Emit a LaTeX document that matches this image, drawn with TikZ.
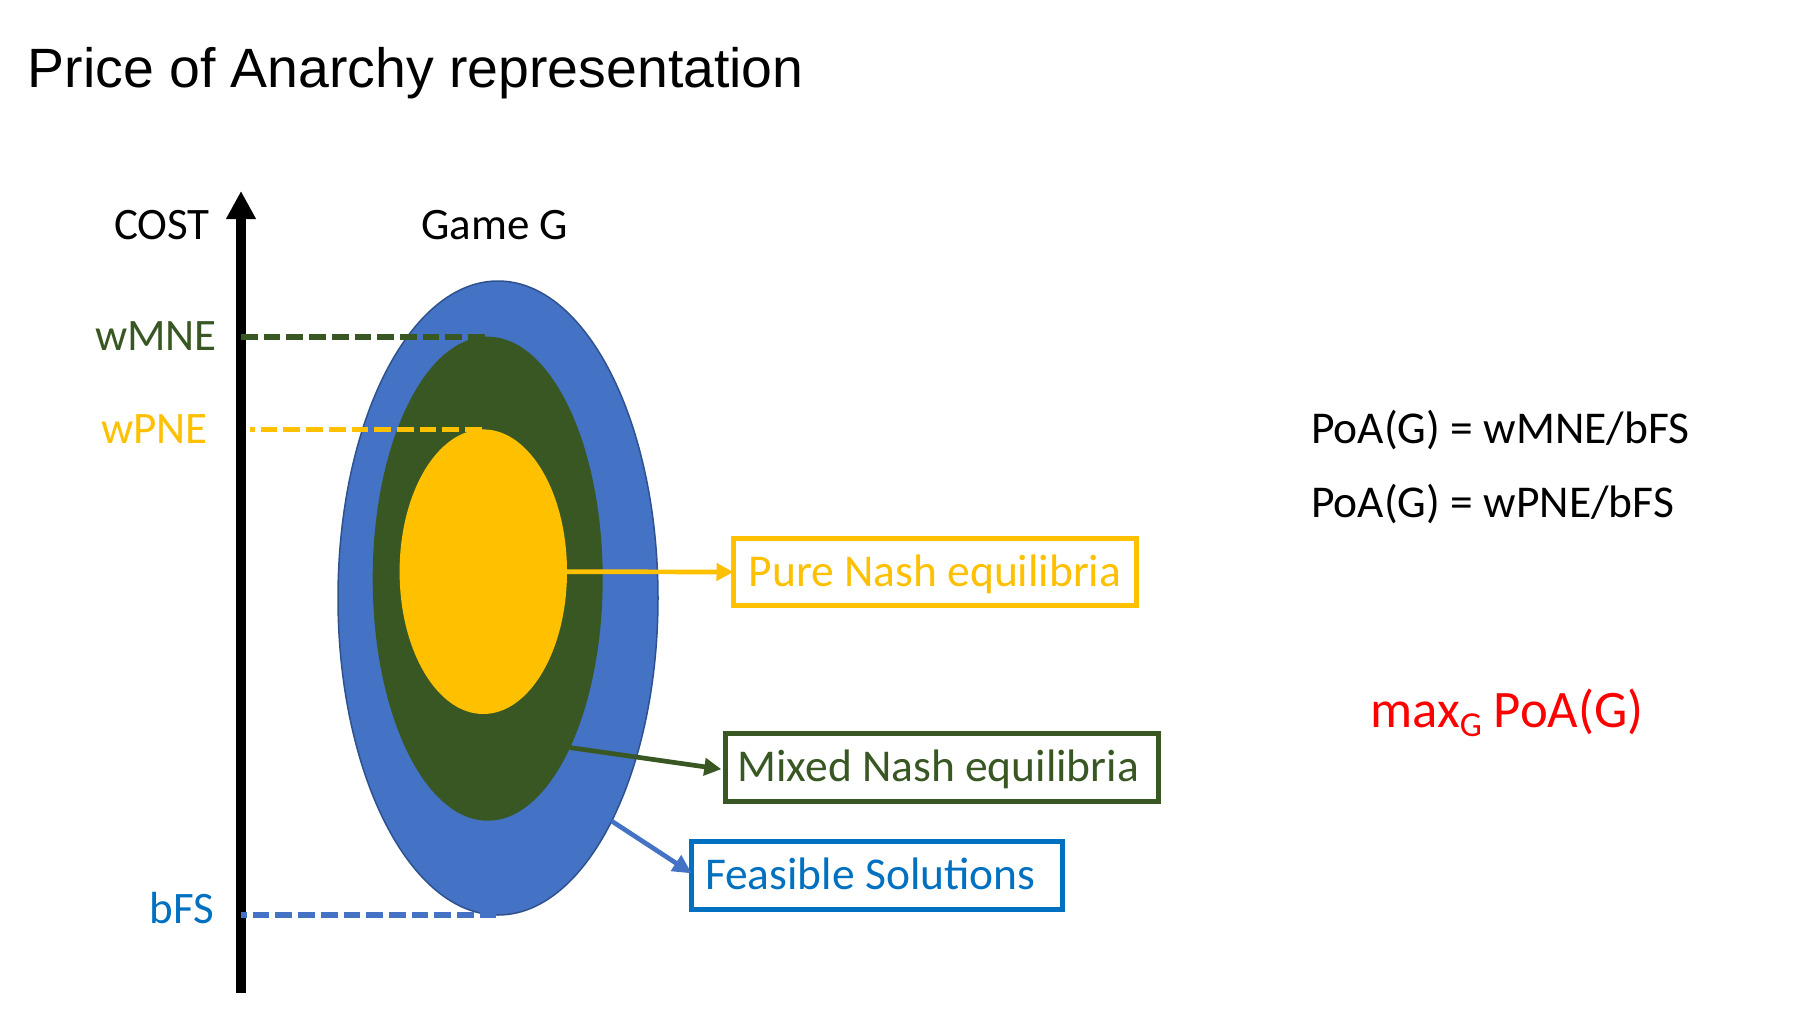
\documentclass[tikz,border=0pt]{standalone}
\usepackage{fontspec}
\setmainfont{Carlito}
\newfontfamily\titlefont{Liberation Sans}
\usetikzlibrary{arrows.meta,shapes.geometric}
\definecolor{cblue}{HTML}{4472C4}
\definecolor{cblueline}{HTML}{2F528F}
\definecolor{cgreen}{HTML}{385723}
\definecolor{cyellow}{HTML}{FFC000}
\definecolor{ctextblue}{HTML}{0070C0}
\definecolor{cred}{HTML}{FF0000}
\begin{document}
\begin{tikzpicture}[x=1pt,y=-1pt,
  lbl/.style={inner sep=0pt, font=\fontsize{45}{50}\selectfont},
  setshape/.style={ellipse, inner sep=0pt, outer sep=0pt},
  dashline/.style={line width=5.7pt, line cap=butt, dash pattern=on 16.7pt off 6pt},
  labelbox/.style={rectangle, line width=5pt, fill=white, inner sep=0pt, outer sep=0pt,
    text height=35pt, text depth=7pt, font=\fontsize{45.5}{50}\selectfont},
  callout/.style={line width=4.7pt, -{Triangle[length=17pt,width=17pt]}}
]
\useasboundingbox[fill=white] (0,0) rectangle (1808,1022);

% title
\node[anchor=base west, inner sep=0pt, font=\titlefont\fontsize{55.4}{60}\selectfont] (title) at (27.5,88) {Price of Anarchy representation};

% axis
\coordinate (axbot) at (241,993);
\coordinate (axtop) at (241,191);
\draw[line width=9.5pt, -{Triangle[length=28pt,width=28pt]}] (axbot) -- (axtop);

% nested sets
\node[setshape, fill=cblue, draw=cblueline, line width=1.5pt, minimum width=320pt, minimum height=634pt] (fs) at (498,598) {};
\node[setshape, fill=cgreen, minimum width=230pt, minimum height=484pt] (mne) at (487.7,578.7) {};
\node[setshape, fill=cyellow, minimum width=167.4pt, minimum height=284.6pt] (pne) at (483.3,571.7) {};

% dashed level lines
\draw[dashline, draw=cgreen] (axbot |- mne.north) -- (mne.north);
\draw[dashline, draw=cyellow, dash phase=12pt] ([xshift=9pt]axbot |- pne.north) -- (pne.north);
\draw[dashline, draw=cblue, dash phase=11pt] (axbot |- fs.south) -- (fs.south);

% axis labels
\node[lbl, anchor=base east] (cost) at (210,239.3) {COST};
\node[lbl, anchor=base west] (game) at (421,239.3) {Game G};
\node[lbl, anchor=base east, text=cgreen] (wmne) at (217,350.7) {wMNE};
\node[lbl, anchor=base east, text=cyellow] (wpne) at (208,443.3) {wPNE};
\node[lbl, anchor=base east, text=ctextblue] (bfs) at (214,923) {bFS};

% boxes
\node[labelbox, draw=cyellow, text=cyellow, minimum width=403pt, minimum height=67pt] (pnebox) at (935,572) {Pure Nash equilibria};
\node[labelbox, draw=cgreen, text=cgreen, minimum width=433pt, minimum height=68pt] (mnebox) at (941.8,767.7) {Mixed Nash equilibria\kern7pt};
\node[labelbox, draw=ctextblue, text=ctextblue, minimum width=371pt, minimum height=68pt] (fsbox) at (877.3,875.4) {Feasible Solutions\kern14pt};

% callout arrows
\draw[callout, draw=cyellow] (pne.east) -- (pnebox.west);
\draw[callout, draw=cgreen] (mne.-64.8) -- ([xshift=-4pt,yshift=-1.5pt]mnebox.west);
\draw[callout, draw=cblue, -{Triangle[length=19pt,width=18pt]}] (fs.-63) -- ([yshift=2pt]fsbox.west);

% formulas
\node[lbl, anchor=base west, font=\fontsize{45.5}{50}\selectfont] (poa1) at (1311,443.3) {PoA(G) = wMNE/bFS};
\node[lbl, anchor=base west, font=\fontsize{45.5}{50}\selectfont] (poa2) at (1311,517.3) {PoA(G) = wPNE/bFS};
\node[inner sep=0pt, anchor=base west, text=cred, font=\fontsize{52.7}{56}\selectfont] (maxpoa) at (1370,727.7)
  {max\raisebox{-9pt}{\fontsize{35}{35}\selectfont G} PoA(G)};
\end{tikzpicture}
\end{document}
